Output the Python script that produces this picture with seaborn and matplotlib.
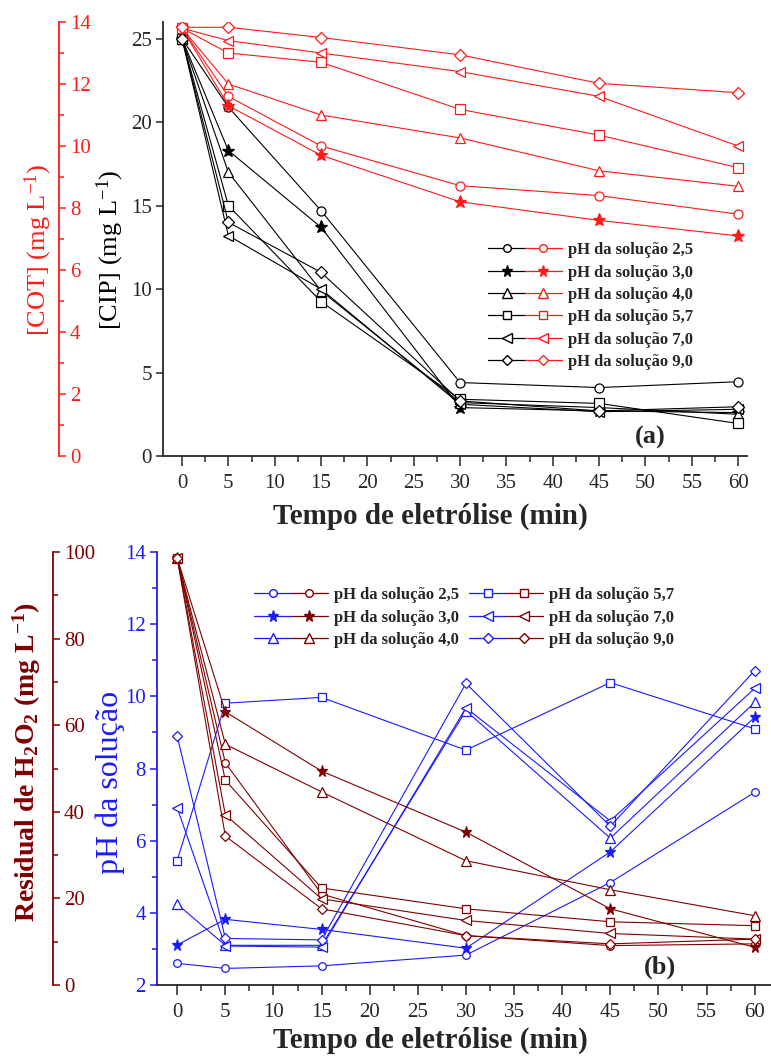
import pandas as pd
import seaborn as sns
import matplotlib.pyplot as plt
from matplotlib.lines import Line2D
from matplotlib.legend_handler import HandlerTuple
from matplotlib.ticker import MultipleLocator, NullLocator

# tempo de eletrólise (min)
tempo = [0, 5, 15, 30, 45, 60]
ph_rotulos = ["2,5", "3,0", "4,0", "5,7", "7,0", "9,0"]
marcadores = ["o", "*", "^", "s", "<", "D"]

# (a) CIP (mg/L), eixo preto
cip_25 = [25.0, 20.9, 14.7, 4.4, 4.1, 4.45]
cip_30 = [25.0, 18.3, 13.7, 2.9, 2.7, 2.6]
cip_40 = [25.0, 17.0, 9.9, 3.2, 2.9, 2.5]
cip_57 = [25.0, 15.0, 9.25, 3.4, 3.15, 1.95]
cip_70 = [25.0, 13.2, 10.0, 3.1, 2.65, 2.8]
cip_90 = [25.0, 14.0, 11.0, 3.3, 2.7, 2.95]

# (a) COT (mg/L), eixo vermelho
cot_25 = [13.8, 11.6, 10.0, 8.72, 8.4, 7.8]
cot_30 = [13.8, 11.3, 9.7, 8.2, 7.6, 7.1]
cot_40 = [13.8, 12.0, 11.0, 10.26, 9.2, 8.7]
cot_57 = [13.8, 13.0, 12.7, 11.18, 10.35, 9.3]
cot_70 = [13.8, 13.4, 13.0, 12.4, 11.6, 10.0]
cot_90 = [13.83, 13.83, 13.5, 12.94, 12.02, 11.72]

# (b) pH da solução, eixo azul
ph_25 = [2.60, 2.46, 2.53, 2.83, 4.84, 7.34]
ph_30 = [3.11, 3.82, 3.54, 3.02, 5.69, 9.42]
ph_40 = [4.24, 3.10, 3.10, 9.60, 6.07, 9.83]
ph_57 = [5.45, 9.81, 9.97, 8.51, 10.38, 9.10]
ph_70 = [6.91, 3.08, 3.05, 9.68, 6.55, 10.22]
ph_90 = [8.90, 3.29, 3.25, 10.36, 6.40, 10.71]

# (b) H2O2 residual (mg/L), eixo vinho
h2o2_25 = [98.6, 51.3, 21.0, 11.4, 9.1, 9.5]
h2o2_30 = [98.6, 63.1, 49.4, 35.3, 17.6, 8.7]
h2o2_40 = [98.6, 55.6, 44.6, 28.7, 22.0, 16.0]
h2o2_57 = [98.6, 47.3, 22.4, 17.6, 14.6, 13.7]
h2o2_70 = [98.6, 39.3, 19.9, 14.9, 11.9, 10.6]
h2o2_90 = [98.6, 34.4, 17.6, 11.4, 9.5, 10.6]

cip = [cip_25, cip_30, cip_40, cip_57, cip_70, cip_90]
cot = [cot_25, cot_30, cot_40, cot_57, cot_70, cot_90]
ph_sol = [ph_25, ph_30, ph_40, ph_57, ph_70, ph_90]
h2o2 = [h2o2_25, h2o2_30, h2o2_40, h2o2_57, h2o2_70, h2o2_90]

PRETO = "black"
VERMELHO = "#ff1a1a"
AZUL = "#1a1aff"
VINHO = "#7f0000"

sns.set_style("ticks")
plt.rcParams["font.family"] = ["Liberation Serif", "DejaVu Serif"]
plt.rcParams["mathtext.fontset"] = "custom"
plt.rcParams["mathtext.rm"] = "Liberation Serif"
plt.rcParams["mathtext.bf"] = "Liberation Serif:bold"
plt.rcParams["mathtext.it"] = "Liberation Serif:italic"

fig = plt.figure(figsize=(7.71, 10.57), dpi=100)
W, H = 771, 1057


def fx(px):
    return px / W


def fy(py):
    return 1 - py / H


def tamanho(m, ms):
    # estrela e triangulos ficam menores que o circulo no mesmo tamanho
    if m == "*":
        return ms * 1.5
    if m in ("^", "<"):
        return ms * 1.2
    if m == "D":
        return ms * 0.9
    return ms


def desenha(ax, valores, cor, ms):
    for vals, m in zip(valores, marcadores):
        df = pd.DataFrame({"t": tempo, "v": vals})
        mfc = cor if m == "*" else "white"
        sns.lineplot(data=df, x="t", y="v", ax=ax, color=cor, marker=m,
                     markersize=tamanho(m, ms), markerfacecolor=mfc, markeredgecolor=cor,
                     markeredgewidth=0.9, linewidth=0.8, legend=False)
    ax.set_xlabel("")
    ax.set_ylabel("")


def eixo_x(ax, xlim, xc, yc):
    ax.set_xlim(*xlim)
    ax.xaxis.set_major_locator(MultipleLocator(5))
    ax.xaxis.set_minor_locator(MultipleLocator(2.5))
    ax.tick_params(axis="x", which="major", length=7, width=1.1, labelsize=15, pad=6)
    ax.tick_params(axis="x", which="minor", length=4.5, width=1.1)
    ax.set_xlabel("Tempo de eletrólise (min)", fontsize=21, fontweight="bold")
    ax.xaxis.set_label_coords(xc, yc)


def legenda(cor1, cor2, x, y, ncol):
    handles = []
    for m in marcadores:
        par = []
        for c in (cor1, cor2):
            mfc = c if m == "*" else "white"
            par.append(Line2D([], [], color=c, marker=m, markersize=tamanho(m, 5.5),
                              markerfacecolor=mfc, markeredgecolor=c, lw=0.9))
        handles.append(tuple(par))
    labels = ["pH da solução " + r for r in ph_rotulos]
    fig.legend(handles, labels, loc="upper left", bbox_to_anchor=(fx(x), fy(y)),
               ncol=ncol, frameon=False, borderpad=0, handlelength=4.4,
               handletextpad=0.4, labelspacing=0.38, columnspacing=0.6,
               handler_map={tuple: HandlerTuple(ndivide=None, pad=0)},
               prop={"weight": "bold", "size": 12})


# ---------- (a) ----------
ax1 = fig.add_axes([fx(163), fy(456), fx(747 - 163), (456 - 22) / H])
ax1b = ax1.twinx()
desenha(ax1, cip, PRETO, 6.5)
desenha(ax1b, cot, VERMELHO, 6.5)
ax1.set_ylim(0, 26)
ax1b.set_ylim(0, 14)
eixo_x(ax1, (-2.05, 60.95), (430 - 163) / 584, -(503 - 456) / 434)

ax1.yaxis.set_major_locator(MultipleLocator(5))
ax1.yaxis.set_minor_locator(NullLocator())
ax1.tick_params(axis="y", length=5, width=1.1, labelsize=15, pad=3)
for s in ["top", "right"]:
    ax1.spines[s].set_visible(False)
for s in ["left", "bottom"]:
    ax1.spines[s].set_linewidth(1.3)

for s in ["top", "left", "bottom"]:
    ax1b.spines[s].set_visible(False)
ax1b.spines["right"].set_position(("axes", (59 - 163) / 584))
ax1b.spines["right"].set_color(VERMELHO)
ax1b.spines["right"].set_linewidth(1.3)
ax1b.yaxis.set_major_locator(MultipleLocator(2))
ax1b.yaxis.set_minor_locator(MultipleLocator(1))
ax1b.tick_params(axis="y", which="major", length=5, width=1.1, colors=VERMELHO, labelsize=15, pad=3)
ax1b.tick_params(axis="y", which="minor", length=3.5, width=1.1, colors=VERMELHO)

fig.text(fx(38), fy(250), "[COT] (mg L$^{-1}$)", rotation=90, ha="center", va="center",
         fontsize=19, color=VERMELHO)
fig.text(fx(110), fy(250), "[CIP] (mg L$^{-1}$)", rotation=90, ha="center", va="center",
         fontsize=19, color=PRETO)
fig.text(fx(650), fy(437), "(a)", ha="center", va="center", fontsize=19, fontweight="bold")
legenda(PRETO, VERMELHO, 480, 234, 1)

# ---------- (b) ----------
ax2 = fig.add_axes([fx(157), fy(985), fx(771 - 157), (985 - 552) / H])
ax2b = ax2.twinx()
desenha(ax2, ph_sol, AZUL, 5.5)
desenha(ax2b, h2o2, VINHO, 5.5)
ax2.set_ylim(2, 14)
ax2b.set_ylim(0, 100)
eixo_x(ax2, (-2.1, 61.7), (430 - 157) / 614, -(1027 - 985) / 433)

ax2.yaxis.set_major_locator(MultipleLocator(2))
ax2.yaxis.set_minor_locator(MultipleLocator(1))
ax2.tick_params(axis="y", which="major", length=5, width=1.1, colors=AZUL, labelsize=15, pad=3)
ax2.tick_params(axis="y", which="minor", length=3.5, width=1.1, colors=AZUL)
for s in ["top", "right"]:
    ax2.spines[s].set_visible(False)
ax2.spines["left"].set_color(AZUL)
for s in ["left", "bottom"]:
    ax2.spines[s].set_linewidth(1.3)

for s in ["top", "left", "bottom"]:
    ax2b.spines[s].set_visible(False)
ax2b.spines["right"].set_position(("axes", (53 - 157) / 614))
ax2b.spines["right"].set_color(VINHO)
ax2b.spines["right"].set_linewidth(1.3)
ax2b.yaxis.set_major_locator(MultipleLocator(20))
ax2b.yaxis.set_minor_locator(MultipleLocator(10))
ax2b.tick_params(axis="y", which="major", length=5, width=1.1, colors=VINHO, labelsize=15, pad=3)
ax2b.tick_params(axis="y", which="minor", length=3.5, width=1.1, colors=VINHO)

fig.text(fx(27), fy(762), r"Residual de H$_\mathbf{2}$O$_\mathbf{2}$ (mg L$^\mathbf{-1}$)",
         rotation=90, ha="center", va="center", fontsize=20, fontweight="bold", color=VINHO)
fig.text(fx(110), fy(782), "pH da solução", rotation=90, ha="center", va="center",
         fontsize=23, color=AZUL)
fig.text(fx(660), fy(967), "(b)", ha="center", va="center", fontsize=19, fontweight="bold")
legenda(AZUL, VINHO, 246, 579, 2)

fig.savefig("out.png", dpi=100)
